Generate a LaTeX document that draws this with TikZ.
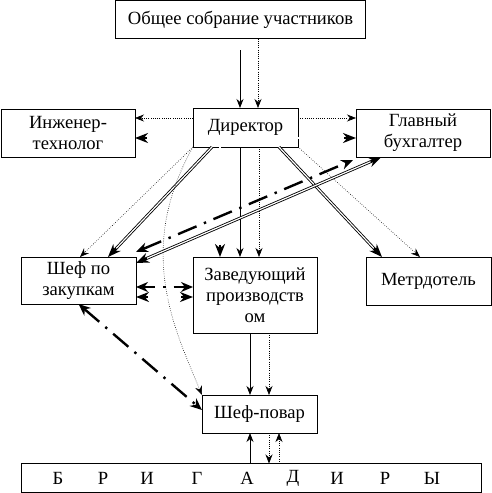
\documentclass[tikz,border=0pt]{standalone}
\usepackage{fontspec}
\setmainfont{Liberation Serif}
\usetikzlibrary{arrows.meta}
\tikzset{blk/.style = {draw, line width = 0.8, align = center, inner sep = 0, outer sep = 0,
    font = \rmfamily\fontsize{18.6}{21}\selectfont}}
\tikzset{arr/.style = {line width = 0.8, -{Stealth[length = 9, width = 7]}}}
\tikzset{dotarr/.style = {line width = 0.6, dash pattern = on 0.6pt off 1.6pt,
    -{Stealth[length = 9, width = 7]}}}
\tikzset{dblarr/.style = {line width = 2.9, -{Stealth[length = 13, width = 10]},
    postaction = {draw = white, line width = 1.2, -, shorten > = 12}}}
\tikzset{dbldbl/.style = {line width = 2.9,
    {Stealth[length = 13, width = 10]}-{Stealth[length = 13, width = 10]},
    postaction = {draw = white, line width = 1.2, -, shorten > = 12, shorten < = 12}}}
\tikzset{dsharr/.style = {line width = 2.4, dash pattern = on 20pt off 8pt on 2.4pt off 8pt,
    {Stealth[length = 12, width = 10]}-{Stealth[length = 12, width = 10]}}}

\begin{document}
\begin{tikzpicture}[x = 1pt, y = -1pt]
      \useasboundingbox (0, 0) rectangle (491, 493);
      \node [blk, minimum width = 250, minimum height = 38] (sobranie) at (240.5, 19.5) {Общее собрание участников};
      \node [blk, minimum width = 105, minimum height = 39] (direktor) at (245.5, 127.5) {Директор};
      \node [blk, minimum width = 134, minimum height = 48] (inzhener) at (68, 133) {Инженер-\\технолог};
      \node [blk, minimum width = 134, minimum height = 48] (buhgalter) at (423, 133) {Главный\\бухгалтер};
      \node [blk, minimum width = 115, minimum height = 47] (zakupki) at (78.5, 280.5) {Шеф по\\закупкам};
      \node [blk, minimum width = 124, minimum height = 76] (zaved) at (255, 295) {Заведующий\\производств\\ом};
      \node [blk, minimum width = 125, minimum height = 48] (metrdotel) at (428.5, 281) {Метрдотель};
      \node [blk, minimum width = 115, minimum height = 38] (povar) at (259.5, 414) {Шеф-повар};
      \node [blk, minimum width = 460, minimum height = 29] (brig) at (251, 478) {};
      \foreach \x/\l [count = \i] in {58/Б, 103/Р, 147/И, 197/Г, 247/А, 293/Д, 337/И, 385/Р, 432/Ы}
        \node [font = \rmfamily\fontsize{18.6}{21}\selectfont] (bl\i) at (\x, 478) {\l};

      \coordinate (s1) at (240, 50);
      \draw [arr] (s1) -- (s1 |- direktor.north);
      \draw [dotarr] ([xshift = 17.5]sobranie.south) -- ([xshift = 12.5]direktor.north);

      \draw [dotarr] ([yshift = 9.5]direktor.west) -- ([yshift = 15]inzhener.east);
      \draw [dblarr] ([yshift = -10.5]direktor.west) -- ([yshift = -5]inzhener.east);
      \draw [dotarr] ([yshift = 9.5]direktor.east) -- ([yshift = 15]buhgalter.west);
      \draw [dblarr] ([yshift = -10.5]direktor.east) -- ([yshift = -5]buhgalter.west);

      \draw [dblarr] ([xshift = -25.5]direktor.south) -- ([xshift = -35]zaved.north);
      \draw [arr] ([xshift = -5.5]direktor.south) -- ([xshift = -15]zaved.north);
      \draw [dotarr] ([xshift = 13.5]direktor.south) -- ([xshift = 4]zaved.north);
      \draw [dblarr] ([xshift = -33.5]direktor.south) -- ([xshift = 29.5]zakupki.north);
      \draw [dotarr] (direktor.south west) -- ([xshift = 1.5]zakupki.north);
      \draw [dblarr] ([xshift = 33.5]direktor.south) -- ([xshift = -46.5]metrdotel.north);
      \draw [dotarr] (direktor.south east) -- ([xshift = -8.5]metrdotel.north);
      \draw [dotarr] (direktor.south west) .. controls (135, 250) and (175, 330) .. (povar.north west);

      \draw [dbldbl] ([yshift = -6]zakupki.north east) -- ([xshift = -41.5]buhgalter.south);
      \draw [dsharr] ([yshift = 5]zakupki.north east) -- ([xshift = -3, yshift = -3]buhgalter.south west);
      \draw [dsharr, dash pattern = on 12pt off 8pt on 2.4pt off 8pt] ([yshift = -6.5]zakupki.east) -- ([yshift = 8]zaved.west);
      \draw [dbldbl] ([yshift = -16.5]zakupki.east) -- ([yshift = -2]zaved.west);
      \draw [dsharr] (zakupki.south) -- ([yshift = 4]povar.west);

      \draw [arr] ([xshift = -5]zaved.south) -- ([xshift = -9.5]povar.north);
      \draw [dotarr] ([xshift = 14]zaved.south) -- ([xshift = 9.5]povar.north);
      \draw [arr, {Stealth[length = 9, width = 7]}-] ([xshift = -9.5]povar.south) -- ([xshift = -1]brig.north);
      \draw [dotarr] ([xshift = 9.5]povar.south) -- ([xshift = 18]brig.north);
      \draw [dotarr] ([xshift = 28]brig.north) -- ([xshift = 19.5]povar.south);
    \end{tikzpicture}
\end{document}
